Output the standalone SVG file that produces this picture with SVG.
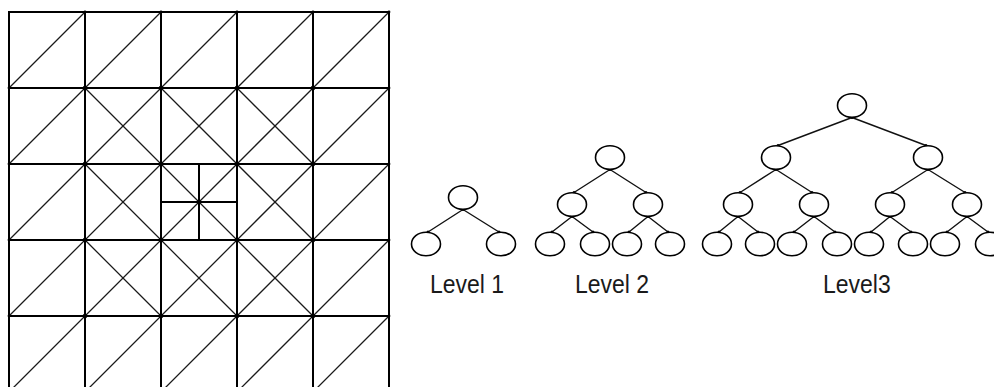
<svg xmlns="http://www.w3.org/2000/svg" width="994" height="387" viewBox="0 0 994 387">
  <style>
    .grid { stroke: #000; stroke-width: 2; fill: none; stroke-linecap: square; }
    .diag { stroke: #1a1a1a; stroke-width: 1.3; fill: none; }
    .vtx { fill: #000; }
    .vtx-s { fill: #000; }
    .node ellipse { fill: #fff; stroke: #000; stroke-width: 1.6; }
    .edge { stroke: #111; stroke-width: 1.4; fill: none; }
    .tip { fill: #000; }
    .label { font-family: "Liberation Sans", Arial, sans-serif; font-size: 23px; fill: #1a1a1a; }
  </style>
  <rect width="994" height="387" fill="#fff"/>

  <!-- Triangulated 5x5 mesh with refined centre cell -->
  <g id="mesh">
    <g class="diag">
      <!-- "/" diagonals through every cell -->
      <path d="M9 88L85 12 M9 164L161 12 M9 240L237 12 M9 316L313 12 M9 392L389 12 M85 392L389 88 M161 392L389 164 M237 392L389 240 M313 392L389 316"/>
      <!-- "\" diagonals in the inner 3x3 block -->
      <path d="M85 88L313 316 M161 88L313 240 M237 88L313 164 M85 164L237 316 M85 240L161 316"/>
    </g>
    <g class="grid">
      <path d="M9 12V392 M85 12V392 M161 12V392 M237 12V392 M313 12V392 M389 12V392"/>
      <path d="M9 12H389 M9 88H389 M9 164H389 M9 240H389 M9 316H389"/>
      <!-- centre cell split -->
      <path d="M199 164V240 M161 202H237"/>
    </g>
    <g class="vtx">
      <circle cx="85" cy="88" r="2.3"/><circle cx="161" cy="88" r="2.3"/><circle cx="237" cy="88" r="2.3"/><circle cx="313" cy="88" r="2.3"/>
      <circle cx="85" cy="164" r="2.3"/><circle cx="161" cy="164" r="2.3"/><circle cx="237" cy="164" r="2.3"/><circle cx="313" cy="164" r="2.3"/>
      <circle cx="85" cy="240" r="2.3"/><circle cx="161" cy="240" r="2.3"/><circle cx="237" cy="240" r="2.3"/><circle cx="313" cy="240" r="2.3"/>
      <circle cx="85" cy="316" r="2.3"/><circle cx="161" cy="316" r="2.3"/><circle cx="237" cy="316" r="2.3"/><circle cx="313" cy="316" r="2.3"/>
      <circle cx="199" cy="202" r="2.3"/>
    </g>
    <g class="vtx-s">
      <circle cx="85" cy="12" r="1.4"/><circle cx="161" cy="12" r="1.4"/><circle cx="237" cy="12" r="1.4"/><circle cx="313" cy="12" r="1.4"/><circle cx="389" cy="12" r="1.4"/>
      <circle cx="9" cy="88" r="1.4"/><circle cx="9" cy="164" r="1.4"/><circle cx="9" cy="240" r="1.4"/><circle cx="9" cy="316" r="1.4"/>
      <circle cx="389" cy="88" r="1.4"/><circle cx="389" cy="164" r="1.4"/><circle cx="389" cy="240" r="1.4"/><circle cx="389" cy="316" r="1.4"/>
    </g>
  </g>

  <!-- Tree connectors -->
  <g id="connectors">
    <g class="edge">
      <!-- level 1 -->
      <path d="M463 209.5L428 232 M463 209.5L499 232"/>
      <!-- level 2 -->
      <path d="M610 169.5L574 192.5 M610 169.5L646 192.5"/>
      <path d="M572 216.5L552 232 M572 216.5L593 232"/>
      <path d="M648 216.5L629 232 M648 216.5L668 232"/>
      <!-- level 3 -->
      <path d="M852 117.5L778 145.5 M852 117.5L926 145.5"/>
      <path d="M776 169.5L740 192.5 M776 169.5L812 192.5"/>
      <path d="M928 169.5L892 192.5 M928 169.5L965 192.5"/>
      <path d="M738 216.5L719 232 M738 216.5L758 232"/>
      <path d="M814 216.5L794 232 M814 216.5L835 232"/>
      <path d="M890 216.5L871 232 M890 216.5L911 232"/>
      <path d="M967 216.5L947 232 M967 216.5L988 232"/>
    </g>
    <g class="tip">
      <circle cx="463" cy="209.5" r="1.5"/><circle cx="428" cy="232" r="1.5"/><circle cx="499" cy="232" r="1.5"/>
      <circle cx="610" cy="169.5" r="1.5"/><circle cx="574" cy="192.5" r="1.5"/><circle cx="646" cy="192.5" r="1.5"/>
      <circle cx="572" cy="216.5" r="1.5"/><circle cx="552" cy="232" r="1.5"/><circle cx="593" cy="232" r="1.5"/>
      <circle cx="648" cy="216.5" r="1.5"/><circle cx="629" cy="232" r="1.5"/><circle cx="668" cy="232" r="1.5"/>
      <circle cx="852" cy="117.5" r="1.5"/><circle cx="778" cy="145.5" r="1.5"/><circle cx="926" cy="145.5" r="1.5"/>
      <circle cx="776" cy="169.5" r="1.5"/><circle cx="740" cy="192.5" r="1.5"/><circle cx="812" cy="192.5" r="1.5"/>
      <circle cx="928" cy="169.5" r="1.5"/><circle cx="892" cy="192.5" r="1.5"/><circle cx="965" cy="192.5" r="1.5"/>
      <circle cx="738" cy="216.5" r="1.5"/><circle cx="719" cy="232" r="1.5"/><circle cx="758" cy="232" r="1.5"/>
      <circle cx="814" cy="216.5" r="1.5"/><circle cx="794" cy="232" r="1.5"/><circle cx="835" cy="232" r="1.5"/>
      <circle cx="890" cy="216.5" r="1.5"/><circle cx="871" cy="232" r="1.5"/><circle cx="911" cy="232" r="1.5"/>
      <circle cx="967" cy="216.5" r="1.5"/><circle cx="947" cy="232" r="1.5"/><circle cx="988" cy="232" r="1.5"/>
    </g>
  </g>

  <!-- Level 1 tree -->
  <g id="l1-root" class="node"><ellipse cx="463" cy="197.5" rx="14.5" ry="11.8"/></g>
  <g id="l1-a" class="node"><ellipse cx="426" cy="244" rx="14.5" ry="11.8"/></g>
  <g id="l1-b" class="node"><ellipse cx="501" cy="244" rx="14.5" ry="11.8"/></g>

  <!-- Level 2 tree -->
  <g id="l2-root" class="node"><ellipse cx="610" cy="157.5" rx="14.5" ry="11.8"/></g>
  <g id="l2-a" class="node"><ellipse cx="572" cy="204.5" rx="14.5" ry="11.8"/></g>
  <g id="l2-b" class="node"><ellipse cx="648" cy="204.5" rx="14.5" ry="11.8"/></g>
  <g id="l2-aa" class="node"><ellipse cx="550" cy="244" rx="14.5" ry="11.8"/></g>
  <g id="l2-ab" class="node"><ellipse cx="595" cy="244" rx="14.5" ry="11.8"/></g>
  <g id="l2-ba" class="node"><ellipse cx="627" cy="244" rx="14.5" ry="11.8"/></g>
  <g id="l2-bb" class="node"><ellipse cx="670" cy="244" rx="14.5" ry="11.8"/></g>

  <!-- Level 3 tree -->
  <g id="l3-root" class="node"><ellipse cx="852" cy="105.5" rx="14.5" ry="11.8"/></g>
  <g id="l3-a" class="node"><ellipse cx="776" cy="157.5" rx="14.5" ry="11.8"/></g>
  <g id="l3-b" class="node"><ellipse cx="928" cy="157.5" rx="14.5" ry="11.8"/></g>
  <g id="l3-aa" class="node"><ellipse cx="738" cy="204.5" rx="14.5" ry="11.8"/></g>
  <g id="l3-ab" class="node"><ellipse cx="814" cy="204.5" rx="14.5" ry="11.8"/></g>
  <g id="l3-ba" class="node"><ellipse cx="890" cy="204.5" rx="14.5" ry="11.8"/></g>
  <g id="l3-bb" class="node"><ellipse cx="967" cy="204.5" rx="14.5" ry="11.8"/></g>
  <g id="l3-aaa" class="node"><ellipse cx="717" cy="244" rx="14.5" ry="11.8"/></g>
  <g id="l3-aab" class="node"><ellipse cx="760" cy="244" rx="14.5" ry="11.8"/></g>
  <g id="l3-aba" class="node"><ellipse cx="792" cy="244" rx="14.5" ry="11.8"/></g>
  <g id="l3-abb" class="node"><ellipse cx="837" cy="244" rx="14.5" ry="11.8"/></g>
  <g id="l3-baa" class="node"><ellipse cx="869" cy="244" rx="14.5" ry="11.8"/></g>
  <g id="l3-bab" class="node"><ellipse cx="913" cy="244" rx="14.5" ry="11.8"/></g>
  <g id="l3-bba" class="node"><ellipse cx="945" cy="244" rx="14.5" ry="11.8"/></g>
  <g id="l3-bbb" class="node"><ellipse cx="990" cy="244" rx="14.5" ry="11.8"/></g>

  <!-- Labels -->
  <text class="label" transform="translate(430 293) scale(1 1.1)">Level 1</text>
  <text class="label" transform="translate(575 293) scale(1 1.1)">Level 2</text>
  <text class="label" transform="translate(823 293) scale(1 1.1)">Level3</text>
</svg>
